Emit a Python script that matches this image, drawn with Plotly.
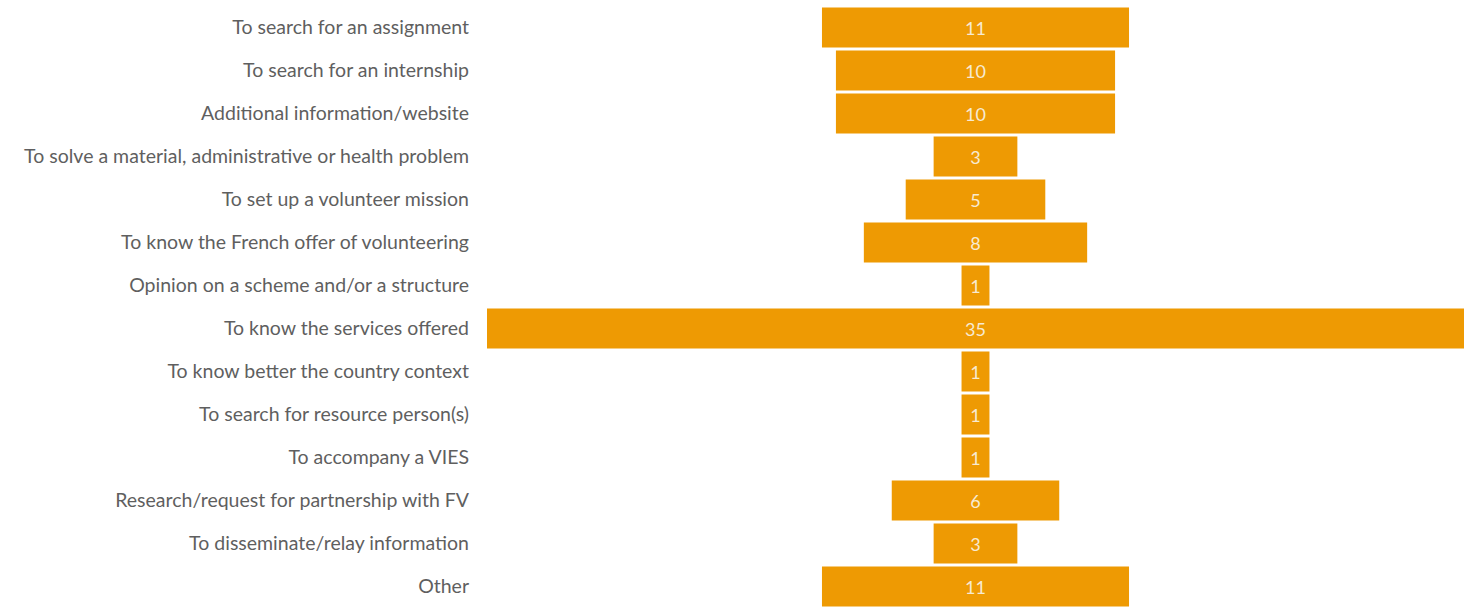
import plotly.graph_objects as go

categories = [
    "To search for an assignment",
    "To search for an internship",
    "Additional information/website",
    "To solve a material, administrative or health problem",
    "To set up a volunteer mission",
    "To know the French offer of volunteering",
    "Opinion on a scheme and/or a structure",
    "To know the services offered",
    "To know better the country context",
    "To search for resource person(s)",
    "To accompany a VIES",
    "Research/request for partnership with FV",
    "To disseminate/relay information",
    "Other",
]
values = [11, 10, 10, 3, 5, 8, 1, 35, 1, 1, 1, 6, 3, 11]

fig = go.Figure(go.Funnel(
    y=categories,
    x=values,
    textinfo="value",
    textposition="inside",
    insidetextanchor="middle",
    textfont=dict(color="#f7ead2", size=18, family="Lato"),
    marker=dict(color="#EE9A03"),
    connector=dict(visible=False),
    hoverinfo="y+x",
))

fig.update_layout(
    width=1470, height=608,
    margin=dict(l=487, r=6, t=6, b=0, autoexpand=False),
    paper_bgcolor="white",
    plot_bgcolor="white",
    funnelgap=0.075,
    showlegend=False,
    font=dict(family="Lato", color="#5f5f5f"),
)
fig.update_xaxes(range=[-17.5, 17.5], visible=False, automargin=False)
fig.update_yaxes(tickfont=dict(size=19.5, color="#5f5f5f", family="Lato"),
                 ticklabelstandoff=17, showgrid=False, automargin=False)

fig.write_html(
    "out.html",
    config={"displayModeBar": False},
    post_script="document.body.style.margin='0';document.body.style.overflow='hidden';",
)
